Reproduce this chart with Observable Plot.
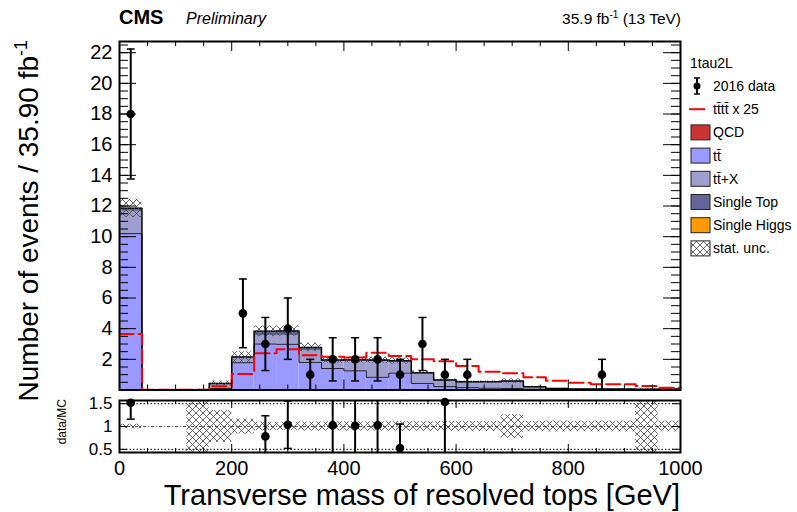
<!DOCTYPE html>
<html><head><meta charset="utf-8">
<script src="https://cdn.jsdelivr.net/npm/d3@7"></script>
<script src="https://cdn.jsdelivr.net/npm/@observablehq/plot@0.6"></script>
<style>
body{margin:0;background:#fff;}
#chart{position:relative;width:797px;height:512px;overflow:hidden;font-family:"Liberation Sans",Arial,Helvetica,sans-serif;}
#chart svg{position:absolute;left:0;}
</style></head><body>
<svg width="0" height="0" style="position:absolute">
  <defs>
    <pattern id="hatch" width="7" height="7" patternUnits="userSpaceOnUse">
      <path d="M0,0L7,7M7,0L0,7" stroke="#444" stroke-width="0.8" fill="none"/>
    </pattern>
  </defs>
</svg>
<div id="chart"></div>
<script>
// ---------- data ----------
const binEdges = [0,40,80,120,160,200,240,280,320,360,400,440,480,520,560,600,640,680,720,760,800,840,880,920,960,1000];
const ttbar      = [10.2,0,0,0,0.10,1.78,3.00,2.98,1.80,1.40,1.25,0.83,1.10,0.43,0.22,0.15,0.12,0.10,0.05,0.02,0.02,0.02,0.02,0.01,0.02];
const ttX        = [1.45,0,0,0.02,0.25,0.30,0.55,0.57,0.75,0.45,0.60,1.00,0.70,0.60,0.35,0.30,0.34,0.40,0.12,0.06,0.04,0.03,0.03,0.03,0.03];
const singleTop  = [0.20,0,0,0,0.08,0.07,0.28,0.30,0.23,0.10,0.12,0.12,0.10,0.10,0.08,0.08,0.08,0.08,0.05,0.02,0.01,0.01,0.01,0.01,0.01];
const qcd        = [0,0,0,0,0,0,0,0,0,0,0,0,0,0,0,0,0,0,0,0,0,0,0,0,0];
const singleHiggs= [0,0,0,0,0,0,0,0,0,0,0,0,0,0,0,0,0,0,0,0,0,0,0,0,0];
const statUnc    = [0.60,0,0,0.03,0.15,0.35,0.35,0.33,0.28,0.20,0.20,0.20,0.20,0.12,0.07,0.06,0.06,0.15,0.025,0.012,0.008,0.007,0.007,0.07,0.007];
const signalX25  = [3.65,0.02,0.02,0.02,0.25,1.04,2.39,2.65,2.26,2.17,2.12,2.43,2.21,2.00,1.88,1.56,1.19,1.09,0.83,0.60,0.47,0.37,0.37,0.26,0.15];

const dataX   = [20,220,260,300,340,380,420,460,500,540,580,620,860];
const dataN   = [18,5,3,4,1,2,2,2,1,3,1,1,1];
const dataErr = [4.24,2.24,1.73,2.00,1.00,1.41,1.41,1.41,1.00,1.73,1.00,1.00,1.00];

const xTickLabels = [0,200,400,600,800,1000];
const xMinorTicks = [50,100,150,250,300,350,450,500,550,650,700,750,850,900,950];
const yTickLabels = [2,4,6,8,10,12,14,16,18,20,22];
const ratioTicks = [0.5,1,1.5];
const ratioTickLabels = ["0.5","1","1.5"];

const procNames  = ["t\u0074\u0304", "t\u0074\u0304+X", "Single Top", "QCD", "Single Higgs"];
const procColors = ["#9999ff", "#9e9ecf", "#65659a", "#cc3333", "#ff9900"];
const procValues = [ttbar, ttX, singleTop, qcd, singleHiggs];

// ---------- derived tables ----------
const nb = binEdges.length - 1;
const binLo = binEdges.slice(0, nb), binHi = binEdges.slice(1);
const total = binLo.map((_, i) => procValues.reduce((s, a) => s + a[i], 0));
const stackRows = [];
procValues.forEach((arr, p) => arr.forEach((v, i) => stackRows.push({lo: binLo[i], hi: binHi[i], proc: procNames[p], value: v})));
const steps = vals => binLo.map((lo, i) => ({x: lo, y: vals[i]})).concat([{x: binHi[nb-1], y: vals[nb-1]}]);
const uncRows = binLo.map((lo, i) => ({lo, hi: binHi[i], y1: total[i] - statUnc[i], y2: total[i] + statUnc[i]})).filter(d => d.y2 > d.y1);
const dataRows = dataX.map((x, i) => ({x, n: dataN[i], lo: dataN[i] - dataErr[i], hi: dataN[i] + dataErr[i]}));
const binOf = x => binLo.findIndex((lo, i) => x >= lo && x < binHi[i]);
const rDom = [0.43, 1.57];
const ratioBand = binLo.map((lo, i) => ({lo, hi: binHi[i], y1: total[i] > 0 ? 1 - statUnc[i]/total[i] : 1, y2: total[i] > 0 ? 1 + statUnc[i]/total[i] : 1, t: total[i]})).filter(d => d.t > 0);
const ratioRows = dataRows.map((d, i) => {
  const t = total[binOf(d.x)];
  const r = d.n / t, e = dataErr[i] / t;
  return {x: d.x, r, lo: r - e, hi: r + e};
}).filter(d => d.r >= rDom[0] && d.r <= rDom[1]);

const capSym = {draw(ctx, size) { const r = Math.sqrt(size / Math.PI); ctx.moveTo(-r, 0); ctx.lineTo(r, 0); }};
const font = "Liberation Sans, Arial, Helvetica, sans-serif";

// ---------- main panel ----------
const mainH = 392, mTop = 41, mBot = 2.5, mL = 119, mR = 117;
const fH = mainH - mTop - mBot, fW = 797 - mL - mR;
const yTop = 22.73;
const yMinor = d3.range(0.5, yTop, 0.5);
const main = Plot.plot({
  width: 797, height: mainH, marginLeft: mL, marginRight: mR, marginTop: mTop, marginBottom: mBot,
  x: {domain: [0, 1000], axis: null},
  y: {domain: [0, yTop], axis: null},
  color: {domain: procNames, range: procColors},
  style: {fontFamily: font, background: "transparent", overflow: "visible"},
  marks: [
    Plot.rectY(stackRows, {x1: "lo", x2: "hi", y: "value", fill: "proc"}),
    Plot.line(steps(ttbar), {x: "x", y: "y", curve: "step-after", stroke: "#222", strokeWidth: 1}),
    Plot.line(steps(total), {x: "x", y: "y", curve: "step-after", stroke: "#000", strokeWidth: 1.5}),
    Plot.rect(uncRows, {x1: "lo", x2: "hi", y1: "y1", y2: "y2", fill: "url(#hatch)"}),
    Plot.line(steps(signalX25), {x: "x", y: "y", curve: "step-after", stroke: "#ff0000", strokeWidth: 2, strokeDasharray: "14,5"}),
    Plot.ruleX(dataRows, {x: "x", y1: "lo", y2: "hi", stroke: "black", strokeWidth: 2}),
    Plot.dot(dataRows, {x: "x", y: "lo", r: 4, symbol: capSym, stroke: "black", strokeWidth: 1.5, fill: "none"}),
    Plot.dot(dataRows, {x: "x", y: "hi", r: 4, symbol: capSym, stroke: "black", strokeWidth: 1.5, fill: "none"}),
    Plot.dot(dataRows, {x: "x", y: "n", r: 4.3, fill: "black"}),
    // inward ticks
    Plot.ruleX(xTickLabels, {x: d => d, insetTop: fH - 10}),
    Plot.ruleX(xMinorTicks, {x: d => d, insetTop: fH - 5}),
    Plot.ruleX(xTickLabels, {x: d => d, insetBottom: fH - 10}),
    Plot.ruleX(xMinorTicks, {x: d => d, insetBottom: fH - 5}),
    Plot.ruleY(yTickLabels, {y: d => d, insetRight: fW - 17}),
    Plot.ruleY(yMinor, {y: d => d, insetRight: fW - 9}),
    Plot.ruleY(yTickLabels, {y: d => d, insetLeft: fW - 17}),
    Plot.ruleY(yMinor, {y: d => d, insetLeft: fW - 9}),
    Plot.axisY(yTickLabels, {anchor: "left", tickSize: 0, tickPadding: 7, fontSize: 20, label: null}),
    Plot.frame({stroke: "black", strokeWidth: 2})
  ]
});
main.style.top = "0px";

// ---------- ratio panel ----------
const rH = 120, rTop = 8, rBot = 60;
const rfH = rH - rTop - rBot;
const ratio = Plot.plot({
  width: 797, height: rH, marginLeft: mL, marginRight: mR, marginTop: rTop, marginBottom: rBot,
  x: {domain: [0, 1000], axis: null},
  y: {domain: rDom, axis: null},
  style: {fontFamily: font, background: "transparent", overflow: "visible"},
  marks: [
    Plot.ruleY([1], {stroke: "#555", strokeWidth: 1, strokeDasharray: "3,2,1,2"}),
    Plot.ruleY([0.5, 1.5], {stroke: "#000", strokeWidth: 1, strokeDasharray: "1.5,2"}),
    Plot.rect(ratioBand, {x1: "lo", x2: "hi", y1: "y1", y2: "y2", fill: "url(#hatch)", clip: true}),
    Plot.ruleX(ratioRows, {x: "x", y1: "lo", y2: "hi", stroke: "black", strokeWidth: 2, clip: true}),
    Plot.dot(ratioRows, {x: "x", y: "lo", r: 4, symbol: capSym, stroke: "black", strokeWidth: 1.5, fill: "none", clip: true}),
    Plot.dot(ratioRows, {x: "x", y: "hi", r: 4, symbol: capSym, stroke: "black", strokeWidth: 1.5, fill: "none", clip: true}),
    Plot.dot(ratioRows, {x: "x", y: "r", r: 4.3, fill: "black"}),
    Plot.ruleX(xTickLabels, {x: d => d, insetTop: rfH - 8}),
    Plot.ruleX(xMinorTicks, {x: d => d, insetTop: rfH - 4}),
    Plot.ruleX(xTickLabels, {x: d => d, insetBottom: rfH - 8}),
    Plot.ruleX(xMinorTicks, {x: d => d, insetBottom: rfH - 4}),
    Plot.ruleY(ratioTicks, {y: d => d, insetRight: fW - 8}),
    Plot.ruleY(ratioTicks, {y: d => d, insetLeft: fW - 8}),
    Plot.axisY(ratioTicks, {anchor: "left", tickSize: 0, tickPadding: 7, fontSize: 17, label: null, tickFormat: d => ratioTickLabels[ratioTicks.indexOf(d)]}),
    Plot.axisX(xTickLabels, {anchor: "bottom", tickSize: 0, tickPadding: 8, fontSize: 20, label: null, tickFormat: d => String(d)}),
    Plot.frame({stroke: "black", strokeWidth: 2})
  ]
});
ratio.style.top = mainH + "px";

const chart = document.getElementById("chart");
chart.appendChild(main);
chart.appendChild(ratio);

// ---------- text overlay & legend ----------
const ov = d3.select(chart).append("svg").attr("width", 797).attr("height", 512)
  .style("top", "0px").style("pointer-events", "none").style("font-family", font);

ov.append("text").attr("x", 119).attr("y", 24).attr("font-size", 20).attr("font-weight", "bold").text("CMS");
ov.append("text").attr("x", 186).attr("y", 24).attr("font-size", 16).attr("font-style", "italic").text("Preliminary");
const lumi = ov.append("text").attr("x", 681).attr("y", 24).attr("font-size", 15.5).attr("text-anchor", "end");
lumi.append("tspan").text("35.9 fb");
lumi.append("tspan").attr("dy", -6).attr("font-size", 10).text("-1");
lumi.append("tspan").attr("dy", 6).text(" (13 TeV)");

const yt = ov.append("text").attr("transform", "translate(38,40) rotate(-90)").attr("text-anchor", "end").attr("font-size", 28);
yt.append("tspan").text("Number of events / 35.90 fb");
yt.append("tspan").attr("dy", -11).attr("font-size", 18).text("-1");

ov.append("text").attr("transform", "translate(66,399) rotate(-90)").attr("text-anchor", "end").attr("font-size", 12).text("data/MC");
ov.append("text").attr("x", 680).attr("y", 505).attr("text-anchor", "end").attr("font-size", 29)
  .text("Transverse mass of resolved tops [GeV]");

// legend
const legX = 691, legY0 = 86, legDy = 23.2;
ov.append("text").attr("x", 690).attr("y", 63).attr("font-size", 14).attr("dominant-baseline", "central").text("1tau2L");
const legendLabels = ["2016 data", "t\u0074\u0304t\u0074\u0304 x 25", "QCD", "t\u0074\u0304", "t\u0074\u0304+X", "Single Top", "Single Higgs", "stat. unc."];
legendLabels.forEach((lab, i) => {
  const cy = legY0 + i * legDy;
  const g = ov.append("g");
  if (i === 0) {
    g.append("line").attr("x1", 697).attr("x2", 697).attr("y1", cy - 8).attr("y2", cy + 8).attr("stroke", "black").attr("stroke-width", 2);
    g.append("line").attr("x1", 694).attr("x2", 700).attr("y1", cy - 8).attr("y2", cy - 8).attr("stroke", "black").attr("stroke-width", 1.5);
    g.append("line").attr("x1", 694).attr("x2", 700).attr("y1", cy + 8).attr("y2", cy + 8).attr("stroke", "black").attr("stroke-width", 1.5);
    g.append("circle").attr("cx", 697).attr("cy", cy).attr("r", 3.5).attr("fill", "black");
  } else if (i === 1) {
    g.append("line").attr("x1", 689).attr("x2", 705).attr("y1", cy).attr("y2", cy).attr("stroke", "#ff0000").attr("stroke-width", 2);
  } else {
    const fill = i === 7 ? "url(#hatch)" : procColors[procNames.indexOf(lab)];
    g.append("rect").attr("x", legX).attr("y", cy - 7.5).attr("width", 19).attr("height", 15)
      .attr("fill", fill).attr("stroke", "#222").attr("stroke-width", 1);
  }
  g.append("text").attr("x", 713).attr("y", cy).attr("font-size", 14).attr("dominant-baseline", "central").text(lab);
});
</script>
</body></html>
